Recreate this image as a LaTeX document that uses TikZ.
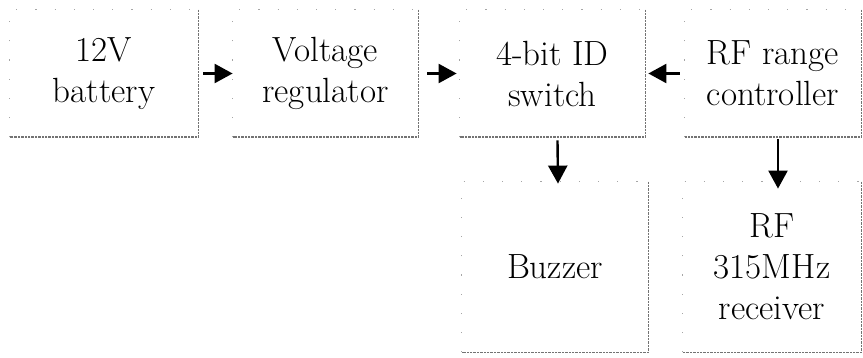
\documentclass[tikz,border=0pt]{standalone}
\usetikzlibrary{arrows.meta}
\begin{document}
\begin{tikzpicture}[x=0.5pt,y=-0.5pt,
  box/.style={rectangle,inner sep=0pt,align=center,
    font=\rmfamily\fontsize{17.5}{20.5}\selectfont},
  shade/.style={draw=black!55,line width=0.9pt,dash pattern=on 1.2pt off 0.5pt},
  faint/.style={draw=black!35,line width=0.5pt,dash pattern=on 0.6pt off 9pt},
  arr/.style={-{Triangle[length=9pt,width=9.5pt]},line width=1.2pt,black}]
\useasboundingbox (0,0) rectangle (863,358);
\node[box,minimum width=94pt,minimum height=63.5pt] (bat) at (104,73.5) {12V\\battery};
\node[box,minimum width=92.5pt,minimum height=63.5pt] (reg) at (325.5,73.5) {Voltage\\regulator};
\node[box,minimum width=92.5pt,minimum height=63.5pt] (sw) at (552.5,73.5) {4-bit ID\\switch};
\node[box,minimum width=88pt,minimum height=63.5pt] (rng) at (773,73.5) {RF range\\controller};
\node[box,minimum width=93pt,minimum height=85pt] (buz) at (555,267) {Buzzer};
\node[box,minimum width=89pt,minimum height=85pt] (rcv) at (772,267) {RF\\315MHz\\receiver};
\foreach \n in {bat,reg,sw,rng,buz,rcv}{
  \draw[shade] (\n.north east) -- (\n.south east) -- (\n.south west);
  \draw[faint] (\n.south west) -- (\n.north west) -- (\n.north east);
}
\draw[arr] ([xshift=2.5pt]bat.east) -- (reg.west);
\draw[arr] ([xshift=4.5pt]reg.east) -- ([xshift=-1.5pt]sw.west);
\draw[arr] ([xshift=-2.5pt]rng.west) -- ([xshift=1.5pt]sw.east);
\draw[arr] ([xshift=2.5pt,yshift=-1.5pt]sw.south) -- ([xshift=1.5pt,yshift=-1pt]buz.north);
\draw[arr] ([xshift=2.5pt,yshift=-1pt]rng.south) -- ([xshift=3pt,yshift=-3.5pt]rcv.north);
\end{tikzpicture}
\end{document}
